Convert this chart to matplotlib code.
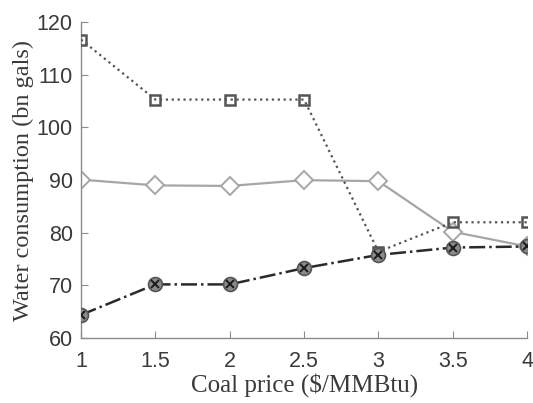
import matplotlib.pyplot as plt
import numpy as np

coal_price = [1, 1.5, 2, 2.5, 3, 3.5, 4]
square_series = [116.7, 105.3, 105.3, 105.3, 76.4, 82.0, 82.0]
diamond_series = [90.1, 89.0, 88.9, 90.0, 89.8, 80.2, 77.4]
cross_series = [64.4, 70.2, 70.2, 73.3, 75.8, 77.2, 77.4]

xticks = [1, 1.5, 2, 2.5, 3, 3.5, 4]
yticks = [60, 70, 80, 90, 100, 110, 120]

fig = plt.figure(figsize=(5.33, 4.03), dpi=100)
ax = fig.add_axes([0.152, 0.161, 0.837, 0.784])

# square series, dotted
ax.plot(coal_price, square_series, linestyle=':', color='#555555', linewidth=1.6,
        marker='s', markersize=7.5, markerfacecolor='none', markeredgecolor='#555555',
        markeredgewidth=1.8, zorder=3)

# diamond series, solid light gray
ax.plot(coal_price, diamond_series, linestyle='-', color='#a6a6a6', linewidth=1.6,
        marker='D', markersize=9, markerfacecolor='white', markeredgecolor='#a6a6a6',
        markeredgewidth=1.4, zorder=2)

# circled cross series, dash-dot dark
ax.plot(coal_price, cross_series, linestyle='-.', color='#2a2a2a', linewidth=1.8,
        marker='o', markersize=10, markerfacecolor='#8a8a8a', markeredgecolor='#555555',
        markeredgewidth=1.2, zorder=4)
ax.plot(coal_price, cross_series, linestyle='none', marker='x', markersize=6,
        markeredgecolor='#1a1a1a', markeredgewidth=1.4, zorder=5)

ax.set_xlim(1, 4)
ax.set_ylim(60, 120)
ax.set_xticks(xticks)
ax.set_xticklabels(['1', '1.5', '2', '2.5', '3', '3.5', '4'])
ax.set_yticks(yticks)

for side in ['top', 'right']:
    ax.spines[side].set_visible(False)
for side in ['left', 'bottom']:
    ax.spines[side].set_color('#8c8c8c')
    ax.spines[side].set_linewidth(1.0)

ax.tick_params(direction='in', length=5, color='#8c8c8c', labelsize=15.5,
               labelcolor='#3a3a3a')
ax.tick_params(axis='x', pad=9)
ax.tick_params(axis='y', pad=6)
for lab in ax.get_xticklabels() + ax.get_yticklabels():
    lab.set_family('Liberation Sans')

ax.set_xlabel('Coal price ($/MMBtu)', family='Liberation Serif', fontsize=18,
              color='#3a3a3a', labelpad=1)
ax.set_ylabel('Water consumption (bn gals)', family='Liberation Serif', fontsize=17.5,
              color='#3a3a3a', labelpad=2)

fig.savefig('out.png', dpi=100)
